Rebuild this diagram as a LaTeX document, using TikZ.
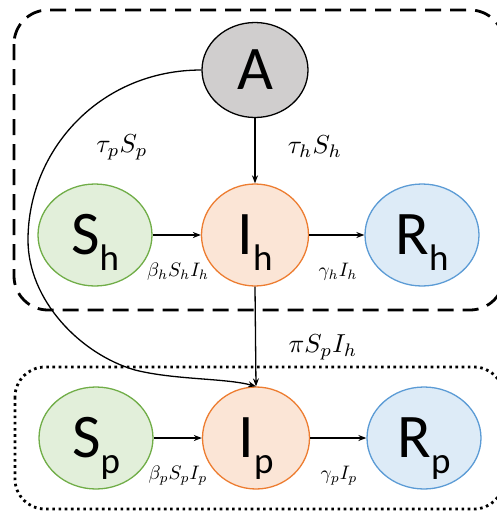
\documentclass[tikz,border=0pt]{standalone}
\usepackage{graphicx}
\usepackage{fontspec}
\setsansfont{Carlito}
\usetikzlibrary{shapes.geometric,arrows.meta}
\definecolor{sfill}{RGB}{226,239,218}
\definecolor{sline}{RGB}{112,173,71}
\definecolor{ifill}{RGB}{251,229,214}
\definecolor{iline}{RGB}{237,125,49}
\definecolor{rfill}{RGB}{221,235,247}
\definecolor{rline}{RGB}{91,155,213}
\definecolor{afill}{RGB}{208,206,206}
\newcommand{\cmp}[2]{{\fontsize{62}{62}\selectfont #1}\smash{\raisebox{-16pt}{\fontsize{37}{37}\selectfont #2}}}
\newcommand{\biglabtext}[1]{\scalebox{2.6}{$#1$}}
\newcommand{\smalllabtext}[1]{\scalebox{1.95}{$#1$}}
\tikzset{
  comp/.style={ellipse, inner sep=0pt, minimum width=114pt, minimum height=102pt, line width=1.3pt, font=\sffamily},
  scomp/.style={comp, draw=sline, fill=sfill},
  icomp/.style={comp, draw=iline, fill=ifill, minimum width=107pt},
  rcomp/.style={comp, draw=rline, fill=rfill},
  acomp/.style={comp, draw=black, fill=afill, minimum width=106pt, minimum height=95pt},
  flow/.style={-{Stealth[length=8pt,width=6pt]}, line width=1.3pt},
  lab/.style={inner sep=0pt},
  hostbox/.style={line width=2.8pt, dash pattern=on 16pt off 9pt, rounded corners=34pt},
  vecbox/.style={line width=2.8pt, dash pattern=on 2.6pt off 3.6pt, rounded corners=30pt}
}
\begin{document}
\begin{tikzpicture}[x=1pt,y=-1pt]
\useasboundingbox (0,0) rectangle (497,515);
\draw[hostbox] (14,10) rectangle (504,310);
\draw[vecbox] (15,367) rectangle (504,509);
\node[acomp] (A) at (255,70) {{\fontsize{62}{62}\selectfont A}};
\node[scomp] (Sh) at (95,235) {\cmp{S}{h}};
\node[icomp] (Ih) at (255,235) {\cmp{I}{h}};
\node[rcomp] (Rh) at (422,235) {\cmp{R}{h}};
\node[scomp] (Sp) at (96,438) {\cmp{S}{p}};
\node[icomp] (Ip) at (256,438) {\cmp{I}{p}};
\node[rcomp] (Rp) at (424,438) {\cmp{R}{p}};
\draw[flow] (A) -- (Ih);
\draw[flow] (Sh) -- (Ih);
\draw[flow] (Ih) -- (Rh);
\draw[flow] (Sp) -- (Ip);
\draw[flow] (Ip) -- (Rp);
\draw[flow] (Ih.south) -- (Ip.north);
\coordinate (c1) at (28,240);
\coordinate (c2) at (135,370);
\draw[flow] (A.west) .. controls (100,70) and (28,150) .. (c1)
  .. controls (28,300) and (80,354) .. (c2)
  .. controls (175,380) and (225,378) .. (Ip.north);
\node[lab] (l1) at (122,147) {\biglabtext{\tau_p S_p}};
\node[lab] (l2) at (315,147) {\biglabtext{\tau_h S_h}};
\node[lab] (l3) at (323,347) {\biglabtext{\pi S_p I_h}};
\node[lab] (l4) at (178,272) {\smalllabtext{\beta_h S_h I_h}};
\node[lab] (l5) at (338,272) {\smalllabtext{\gamma_h I_h}};
\node[lab] (l6) at (178,476) {\smalllabtext{\beta_p S_p I_p}};
\node[lab] (l7) at (339,476) {\smalllabtext{\gamma_p I_p}};
\end{tikzpicture}
\end{document}
